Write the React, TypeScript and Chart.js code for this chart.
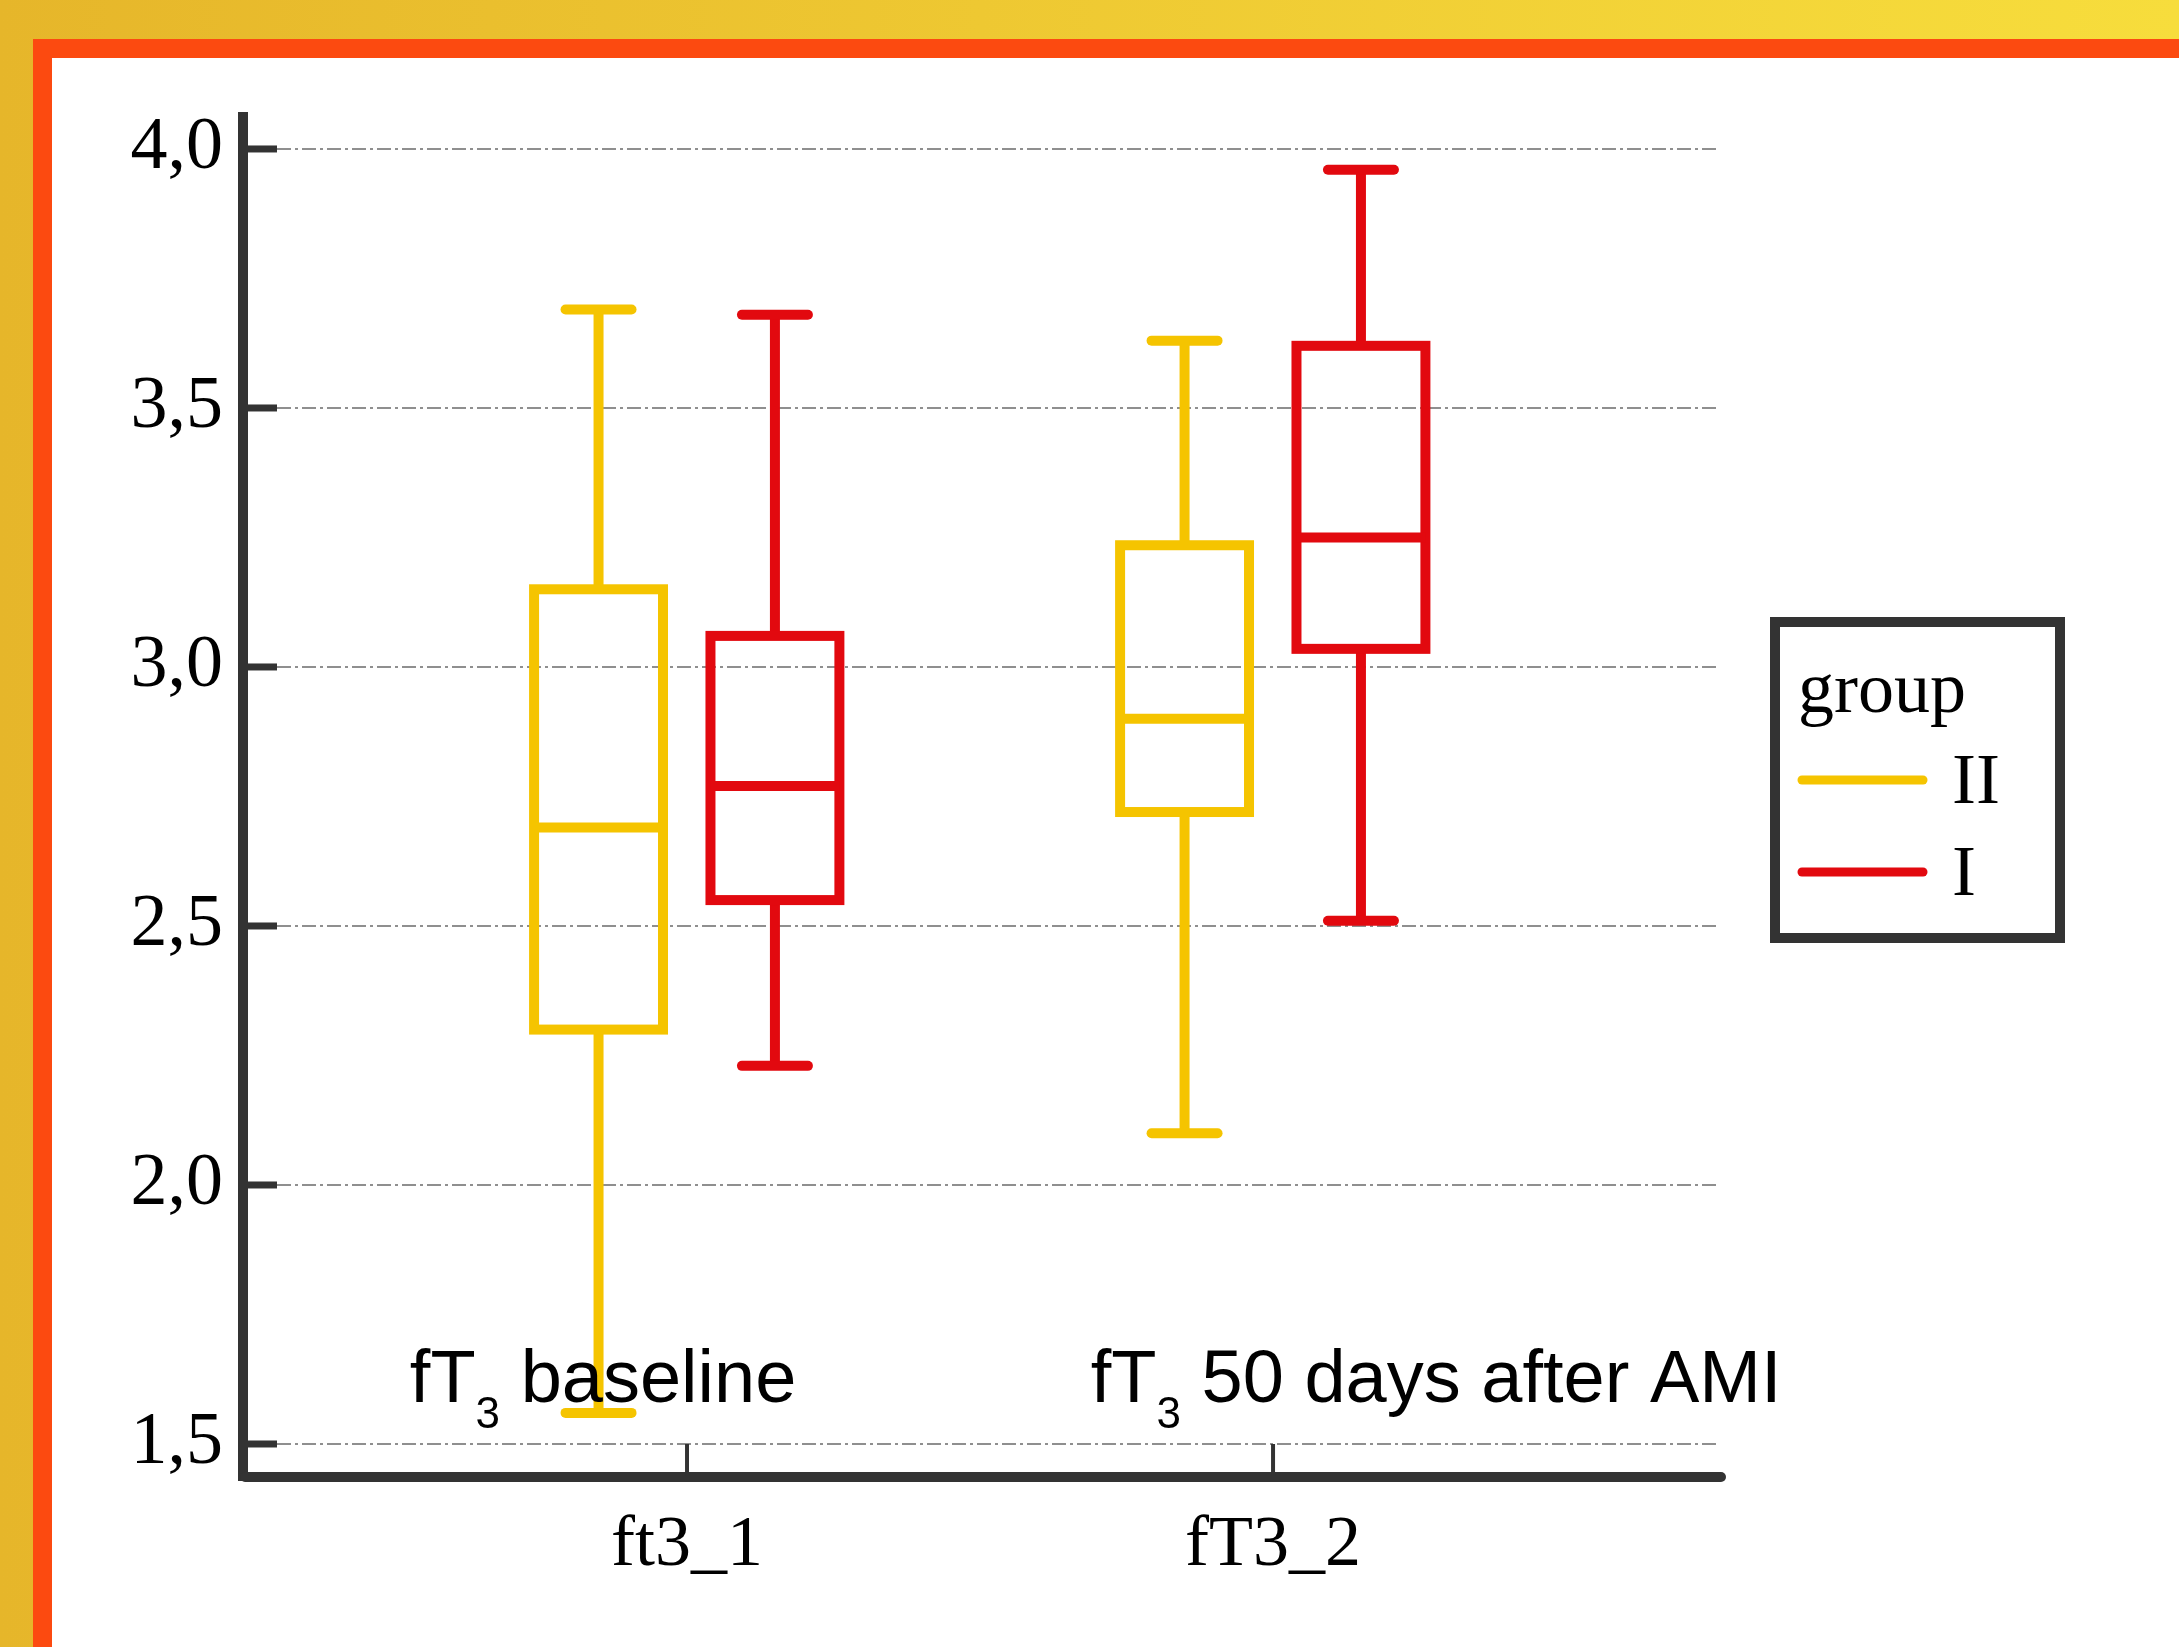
import { useEffect, useRef } from 'react';
import { Chart, registerables } from 'chart.js';

Chart.register(...registerables);

// ---------- data ----------
const categories = ['ft3_1', 'fT3_2'];
const groups = ['II', 'I'];
const groupColors = ['#F5C400', '#E2090F'];
const yTicks = [1.5, 2.0, 2.5, 3.0, 3.5, 4.0];

const groupIIMin = [1.56, 2.10];
const groupIIQ1 = [2.30, 2.72];
const groupIIMedian = [2.69, 2.90];
const groupIIQ3 = [3.15, 3.235];
const groupIIMax = [3.69, 3.63];

const groupIMin = [2.23, 2.51];
const groupIQ1 = [2.55, 3.035];
const groupIMedian = [2.77, 3.25];
const groupIQ3 = [3.06, 3.62];
const groupIMax = [3.68, 3.96];

const annotationMain = ['fT', 'fT'];
const annotationSub = ['3', '3'];
const annotationRest = [' baseline', ' 50 days after AMI'];

const legendTitle = 'group';

// ---------- derived ----------
const stats = [
  { min: groupIIMin, q1: groupIIQ1, med: groupIIMedian, q3: groupIIQ3, max: groupIIMax },
  { min: groupIMin, q1: groupIQ1, med: groupIMedian, q3: groupIQ3, max: groupIMax },
];

const SERIF = '"Liberation Serif", "Times New Roman", Times, serif';
const SANS = '"Liberation Sans", Arial, Helvetica, sans-serif';
const AXIS = '#333333';

const groupOffsets = [-0.151, 0.150];
const boxHalf = 0.110;
const capHalf = 0.0563;
const annotationX = [0.527, 1.689];
const annotationY = 1.581;

function line(ctx: CanvasRenderingContext2D, x1: number, y1: number, x2: number, y2: number) {
  ctx.beginPath();
  ctx.moveTo(x1, y1);
  ctx.lineTo(x2, y2);
  ctx.stroke();
}

const boxPlotPlugin = {
  id: 'boxPlotPlugin',
  beforeDatasetsDraw(chart: any) {
    const { ctx, chartArea } = chart;
    const x = chart.scales.x;
    const y = chart.scales.y;
    ctx.save();
    // dashed grid lines
    ctx.strokeStyle = '#8f8f8f';
    ctx.lineWidth = 2;
    ctx.setLineDash([14, 4, 3, 4]);
    yTicks.forEach((v) => {
      const py = y.getPixelForValue(v);
      line(ctx, chartArea.left + 32, py, chartArea.right, py);
    });
    ctx.setLineDash([]);

    // box plots
    stats.forEach((s, gi) => {
      ctx.strokeStyle = groupColors[gi];
      ctx.lineWidth = 10;
      categories.forEach((_, ci) => {
        const c = ci + 1 + groupOffsets[gi];
        const xc = x.getPixelForValue(c);
        const xl = x.getPixelForValue(c - boxHalf);
        const xr = x.getPixelForValue(c + boxHalf);
        const cl = x.getPixelForValue(c - capHalf);
        const cr = x.getPixelForValue(c + capHalf);
        const pMin = y.getPixelForValue(s.min[ci]);
        const pQ1 = y.getPixelForValue(s.q1[ci]);
        const pMed = y.getPixelForValue(s.med[ci]);
        const pQ3 = y.getPixelForValue(s.q3[ci]);
        const pMax = y.getPixelForValue(s.max[ci]);
        ctx.lineCap = 'butt';
        line(ctx, xc, pQ3, xc, pMax);
        line(ctx, xc, pQ1, xc, pMin);
        ctx.lineCap = 'round';
        line(ctx, cl, pMax, cr, pMax);
        line(ctx, cl, pMin, cr, pMin);
        ctx.lineJoin = 'miter';
        ctx.strokeRect(xl, pQ3, xr - xl, pQ1 - pQ3);
        ctx.lineCap = 'butt';
        line(ctx, xl, pMed, xr, pMed);
      });
    });
    ctx.restore();
  },
  afterDraw(chart: any) {
    const { ctx, chartArea } = chart;
    const x = chart.scales.x;
    const y = chart.scales.y;
    ctx.save();
    // axes
    ctx.strokeStyle = AXIS;
    ctx.lineWidth = 10;
    ctx.lineCap = 'butt';
    line(ctx, chartArea.left - 2, chartArea.top - 6, chartArea.left - 2, chartArea.bottom + 5);
    ctx.lineCap = 'round';
    line(ctx, chartArea.left, chartArea.bottom + 1, chartArea.right + 2, chartArea.bottom + 1);
    // y ticks (inward)
    ctx.lineCap = 'butt';
    ctx.lineWidth = 7;
    yTicks.forEach((v) => {
      const py = y.getPixelForValue(v);
      line(ctx, chartArea.left + 2, py, chartArea.left + 32, py);
    });
    // x ticks (inward)
    ctx.lineWidth = 4;
    categories.forEach((_, ci) => {
      const px = x.getPixelForValue(ci + 1);
      line(ctx, px, y.getPixelForValue(1.5), px, chartArea.bottom);
    });

    // annotations
    ctx.fillStyle = '#000';
    ctx.textBaseline = 'alphabetic';
    ctx.textAlign = 'left';
    annotationMain.forEach((m, i) => {
      let px = x.getPixelForValue(annotationX[i]);
      const py = y.getPixelForValue(annotationY);
      ctx.font = `74px ${SANS}`;
      ctx.fillText(m, px, py);
      px += ctx.measureText(m).width;
      ctx.font = `44px ${SANS}`;
      ctx.fillText(annotationSub[i], px, py + 26);
      px += ctx.measureText(annotationSub[i]).width;
      ctx.font = `74px ${SANS}`;
      ctx.fillText(annotationRest[i], px, py);
    });

    // legend
    const lx = chartArea.right + 56;
    const ly = 564;
    ctx.strokeStyle = AXIS;
    ctx.lineWidth = 10;
    ctx.lineJoin = 'miter';
    ctx.strokeRect(lx, ly, 285, 316);
    ctx.font = `72px ${SERIF}`;
    ctx.fillStyle = '#000';
    ctx.fillText(legendTitle, lx + 23, ly + 90);
    groups.forEach((g, gi) => {
      const yy = ly + 158 + gi * 92;
      ctx.strokeStyle = groupColors[gi];
      ctx.lineWidth = 9;
      ctx.lineCap = 'round';
      line(ctx, lx + 27, yy, lx + 148, yy);
      ctx.fillStyle = '#000';
      ctx.fillText(g, lx + 177, yy + 23);
    });
    ctx.restore();
  },
};

export default function App() {
  const ref = useRef<HTMLCanvasElement>(null);
  useEffect(() => {
    const chart = new Chart(ref.current as HTMLCanvasElement, {
      type: 'scatter',
      data: {
        datasets: groups.map((g, gi) => ({
          label: g,
          data: categories.map((_, ci) => ({ x: ci + 1 + groupOffsets[gi], y: stats[gi].med[ci] })),
          pointRadius: 0,
          showLine: false,
          borderColor: groupColors[gi],
          backgroundColor: groupColors[gi],
        })),
      },
      plugins: [boxPlotPlugin],
      options: {
        animation: false,
        responsive: false,
        devicePixelRatio: 1,
        layout: { padding: { top: 60, right: 460, left: 0, bottom: 0 } },
        plugins: { legend: { display: false }, tooltip: { enabled: false } },
        scales: {
          x: {
            type: 'linear',
            min: 0.2457,
            max: 2.761,
            grid: { display: false, drawTicks: false },
            border: { display: false },
            afterBuildTicks: (scale: any) => {
              scale.ticks = categories.map((_, i) => ({ value: i + 1 }));
            },
            afterFit: (scale: any) => {
              scale.height = 171;
              scale.paddingLeft = 0;
              scale.paddingRight = 0;
            },
            ticks: {
              autoSkip: false,
              maxRotation: 0,
              padding: 27,
              color: '#000',
              font: { family: SERIF, size: 72 },
              callback: (v: any) => categories[Math.round(Number(v)) - 1] ?? '',
            },
          },
          y: {
            type: 'linear',
            min: 1.4382,
            max: 4.0598,
            grid: { display: false, drawTicks: false },
            border: { display: false },
            afterBuildTicks: (scale: any) => {
              scale.ticks = yTicks.map((v) => ({ value: v }));
            },
            afterFit: (scale: any) => {
              scale.width = 193;
              scale.paddingTop = 0;
              scale.paddingBottom = 0;
            },
            ticks: {
              padding: 22,
              color: '#000',
              font: { family: SERIF, size: 74 },
              callback: (v: any) => Number(v).toFixed(1).replace('.', ','),
            },
          },
        },
      },
    } as any);
    return () => chart.destroy();
  }, []);

  return (
    <div
      style={{
        position: 'absolute',
        left: 0,
        top: 0,
        width: 2179,
        height: 1647,
        overflow: 'hidden',
        background: 'linear-gradient(90deg, #E6B62A 0%, #EEC832 45%, #F7DD3C 100%)',
      }}
    >
      <div style={{ position: 'absolute', left: 33, top: 39, right: 0, bottom: 0, background: '#FC4A10' }} />
      <div style={{ position: 'absolute', left: 52, top: 58, width: 2127, height: 1589, background: '#ffffff' }}>
        <canvas ref={ref} width={2127} height={1589} style={{ display: 'block' }} />
      </div>
    </div>
  );
}
